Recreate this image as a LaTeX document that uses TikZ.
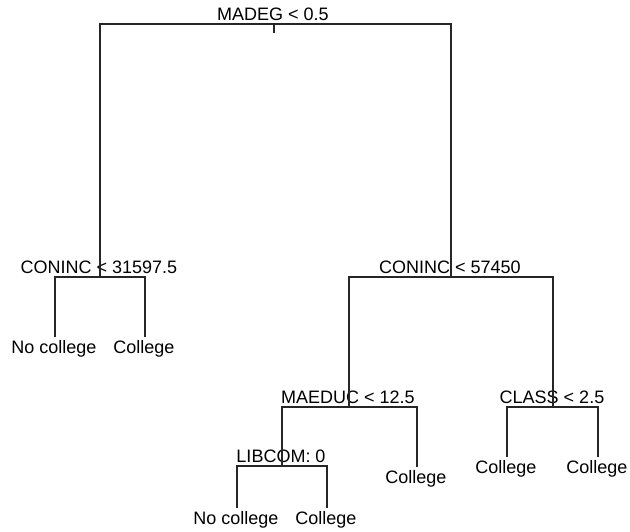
\documentclass[tikz,border=0pt]{standalone}
\usepackage{fontspec}
\setmainfont{Liberation Sans}
\usepackage{tikz}

\begin{document}
\begin{tikzpicture}[
      x=1pt, y=-1pt,
      splitlab/.style={anchor=base, inner sep=0pt, yshift=4pt, xshift=-1pt,
                       font=\fontsize{18}{20}\selectfont},
      leaflab/.style={anchor=base, inner sep=0pt, yshift=-16pt, xshift=-1pt,
                      font=\fontsize{18}{20}\selectfont},
      edge/.style={line width=1.3pt, color=black!85}
    ]
    \useasboundingbox (0,0) rectangle (630,531);
    % split points
    \coordinate (madeg) at (274,24);
    \coordinate (madegtick) at (274,33);
    \coordinate (conlow) at (100,277);
    \coordinate (conhigh) at (451,277);
    \coordinate (maeduc) at (349,407);
    \coordinate (class) at (553,407);
    \coordinate (libcom) at (282,466);
    % leaf ends
    \coordinate (lfa) at (55,337);
    \coordinate (lfb) at (145,337);
    \coordinate (lfc) at (237,508);
    \coordinate (lfd) at (327,508);
    \coordinate (lfe) at (417,467);
    \coordinate (lff) at (507,457);
    \coordinate (lfg) at (598,457);
    % split labels
    \node[splitlab] (madeglab) at (madeg) {MADEG < 0.5};
    \node[splitlab] (conlowlab) at (conlow) {CONINC < 31597.5};
    \node[splitlab] (conhighlab) at (conhigh) {CONINC < 57450};
    \node[splitlab] (maeduclab) at (maeduc) {MAEDUC < 12.5};
    \node[splitlab] (classlab) at (class) {CLASS < 2.5};
    \node[splitlab] (libcomlab) at (libcom) {LIBCOM: 0};
    % leaf labels
    \node[leaflab] (lfalab) at (lfa) {No college};
    \node[leaflab] (lfblab) at (lfb) {College};
    \node[leaflab] (lfclab) at (lfc) {No college};
    \node[leaflab] (lfdlab) at (lfd) {College};
    \node[leaflab] (lfelab) at (lfe) {College};
    \node[leaflab] (lfflab) at (lff) {College};
    \node[leaflab] (lfglab) at (lfg) {College};
    % branches
    \draw[edge] (madeg) -- (madegtick);
    \draw[edge] (conlow) |- (madeg) -| (conhigh);
    \draw[edge] (lfa) |- (conlow) -| (lfb);
    \draw[edge] (maeduc) |- (conhigh) -| (class);
    \draw[edge] (libcom) |- (maeduc) -| (lfe);
    \draw[edge] (lfc) |- (libcom) -| (lfd);
    \draw[edge] (lff) |- (class) -| (lfg);
  \end{tikzpicture}
\end{document}
